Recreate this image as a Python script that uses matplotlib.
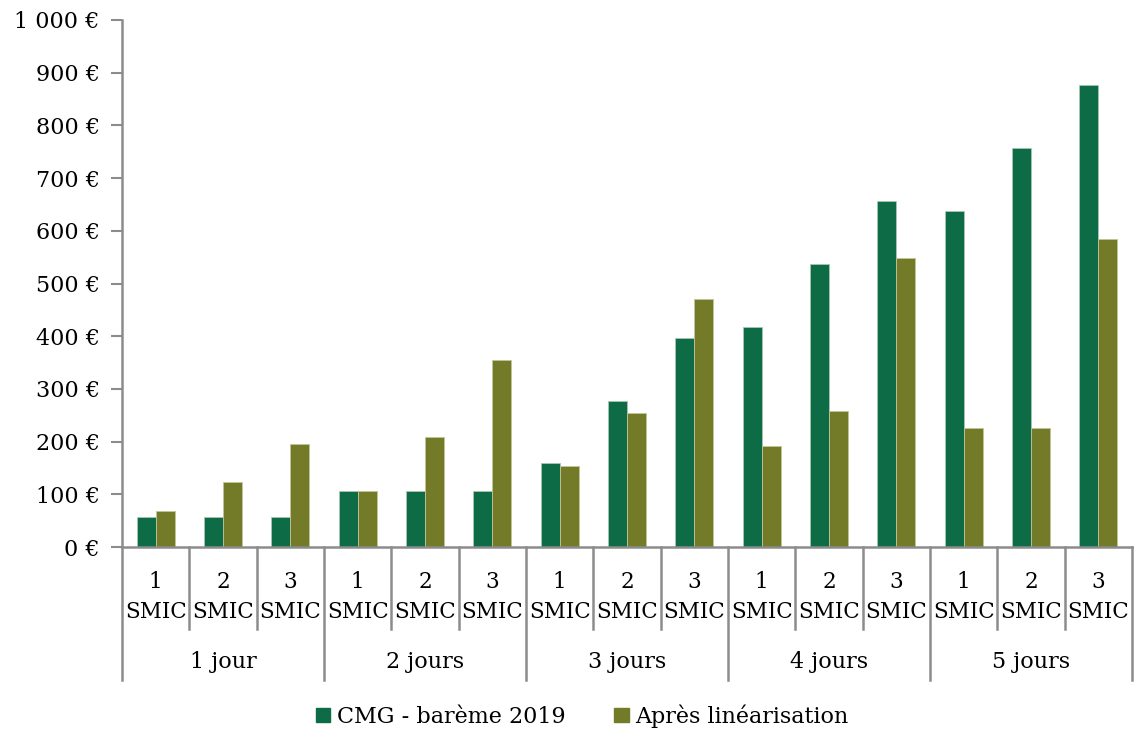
import matplotlib.pyplot as plt
import matplotlib.transforms as mtransforms
from matplotlib.patches import Patch
import numpy as np

plt.rcParams['font.family'] = ['DejaVu Serif']

jours = ["1 jour", "2 jours", "3 jours", "4 jours", "5 jours"]
smic = ["1\nSMIC", "2\nSMIC", "3\nSMIC"]

# valeurs (en euros)
cmg_2019 = [57, 57, 57, 107, 107, 107, 159, 277, 396, 418, 537, 656, 638, 757, 877]
apres_lin = [68, 124, 196, 107, 208, 354, 153, 254, 471, 192, 258, 548, 225, 225, 585]

yticks = [0, 100, 200, 300, 400, 500, 600, 700, 800, 900, 1000]
ytick_labels = ["0 €", "100 €", "200 €", "300 €", "400 €", "500 €", "600 €",
                "700 €", "800 €", "900 €", "1 000 €"]

green = "#0D6B45"
olive = "#747B28"
grey = "#8C8C8C"

W, H = 1135, 731
fig = plt.figure(figsize=(W / 100, H / 100), dpi=100)
ax = fig.add_axes([122 / W, 1 - 547 / H, (1132 - 122) / W, (547 - 20) / H])

x = np.arange(len(cmg_2019))
bw = 0.283
ax.bar(x - bw / 2, cmg_2019, bw, color=green, edgecolor="#A9C7B5", linewidth=0.6)
ax.bar(x + bw / 2, apres_lin, bw, color=olive, edgecolor="#C2C59A", linewidth=0.6)

ax.set_xlim(-0.5, len(x) - 0.5)
ax.set_ylim(0, 1000)
ax.set_yticks(yticks)
ax.set_yticklabels(ytick_labels, fontsize=16)
ax.tick_params(axis="y", length=8, width=1.5, color=grey, pad=8)
ax.set_xticks([])

for s in ["top", "right"]:
    ax.spines[s].set_visible(False)
for s in ["left", "bottom"]:
    ax.spines[s].set_color(grey)
    ax.spines[s].set_linewidth(1.8)

trans = mtransforms.blended_transform_factory(ax.transData, ax.transAxes)

# séparateurs des catégories
y_small = -82 / 527
y_big = -133 / 527
for k in range(len(x) + 1):
    xb = k - 0.5
    yb = y_big if k % 3 == 0 else y_small
    ax.plot([xb, xb], [0, yb], color=grey, lw=1.8, transform=trans, clip_on=False)

for i in range(len(x)):
    ax.text(i, -50 / 527, smic[i % 3], transform=trans, ha="center", va="center",
            fontsize=15.5, linespacing=1.45)

for j, lab in enumerate(jours):
    ax.text(3 * j + 1, -115 / 527, lab, transform=trans, ha="center", va="center",
            fontsize=16)

handles = [Patch(color=green, label="CMG - barème 2019"),
           Patch(color=olive, label="Après linéarisation")]
fig.legend(handles=handles, loc="center", bbox_to_anchor=(0.513, 1 - 716 / H),
           ncol=2, frameon=False, fontsize=16, handlelength=0.65, handleheight=0.65,
           handletextpad=0.3, columnspacing=2.2)

fig.savefig("out.png", dpi=100)
